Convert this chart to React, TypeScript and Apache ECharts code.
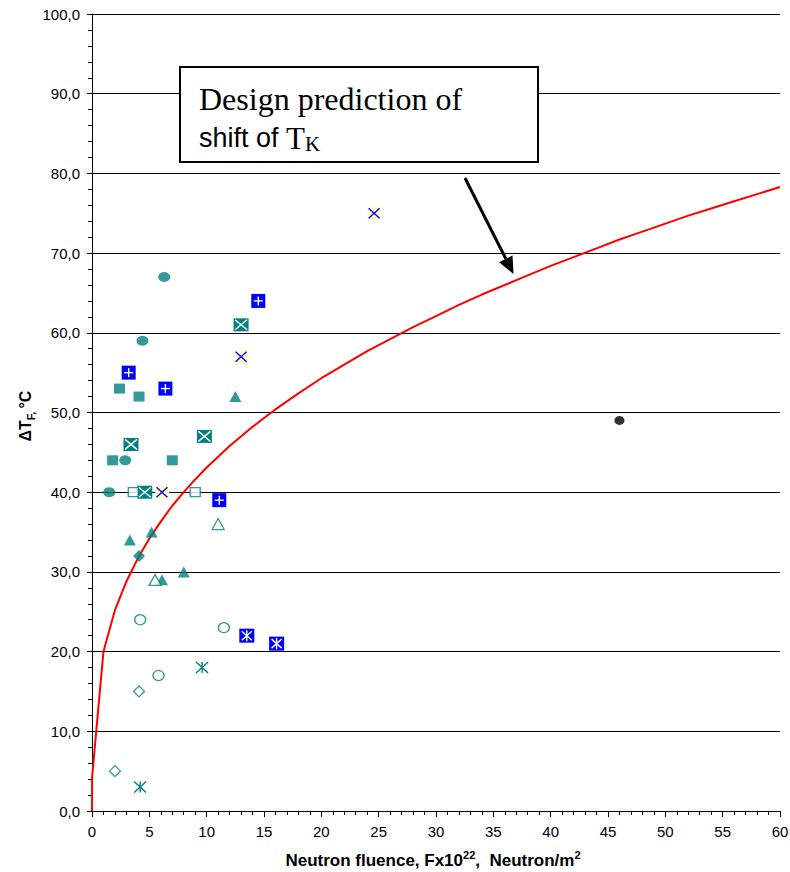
import React, { useEffect, useRef } from "react";
import * as echarts from "echarts";

// Design prediction curve of the transition-temperature shift
const curveFluence = [0, 0.01, 1, 2, 3, 4, 5, 6, 7, 8, 9, 10, 12, 14, 16, 18, 20, 22, 24, 26, 28, 30, 32, 34, 36, 38, 40, 42, 44, 46, 48, 50, 52, 54, 56, 58, 60];
const curveShift = [0, 4.3, 20.0, 25.2, 28.8, 31.7, 34.2, 36.3, 38.3, 40.0, 41.6, 43.1, 45.8, 48.2, 50.4, 52.4, 54.3, 56.0, 57.7, 59.2, 60.7, 62.1, 63.5, 64.8, 66.0, 67.2, 68.4, 69.5, 70.6, 71.7, 72.7, 73.7, 74.7, 75.6, 76.5, 77.4, 78.3];

// Measured shifts, grouped by marker style: [fluence, shift]
const filledEllipse = [[6.3, 67], [4.4, 59], [2.9, 44], [1.5, 40]];
const filledSquare = [[2.4, 53], [4.1, 52], [1.8, 44], [7.0, 44]];
const bluePlusBox = [[14.5, 64], [3.2, 55], [6.4, 53], [11.1, 39]];
const tealCrossBox = [[13.0, 61], [3.4, 46], [9.8, 47], [4.6, 40]];
const yellowCrossBox = [[24.6, 75], [13.0, 57], [6.1, 40]];
const filledTriangle = [[12.5, 52], [5.2, 35], [3.3, 34], [8.0, 30], [6.1, 29]];
const hollowSquare = [[3.6, 40], [9.0, 40]];
const hollowTriangle = [[11.0, 36], [5.5, 29]];
const filledDiamond = [[4.1, 32]];
const hollowCircle = [[4.2, 24], [11.5, 23], [5.8, 17]];
const blueStarBox = [[13.5, 22], [16.1, 21]];
const tealStar = [[9.6, 18], [4.2, 3]];
const hollowDiamond = [[4.1, 15], [2.0, 5]];
const blackDot = [[46.0, 49]];

const xTicks = [0, 5, 10, 15, 20, 25, 30, 35, 40, 45, 50, 55, 60];

const TEAL = "#008080";
const BLUE = "#0000FF";

type Glyph = "plus" | "x" | "star";

function boxMarker(fill: string | null, stroke: string, glyph: Glyph, w = 14, h = 14, inset = 1.5) {
  return (_params: any, api: any) => {
    const p = api.coord([api.value(0), api.value(1)]);
    const cx = p[0];
    const cy = p[1];
    const children: any[] = [];
    if (fill) {
      children.push({
        type: "rect",
        shape: { x: cx - w / 2, y: cy - h / 2, width: w, height: h },
        style: { fill },
      });
    }
    const ls = { stroke, lineWidth: 1.4 };
    const hw = w / 2 - inset;
    const hh = h / 2 - inset;
    if (glyph === "plus") {
      children.push({ type: "line", shape: { x1: cx - hw + 1, y1: cy, x2: cx + hw - 1, y2: cy }, style: ls });
      children.push({ type: "line", shape: { x1: cx, y1: cy - hh + 1, x2: cx, y2: cy + hh - 1 }, style: ls });
    } else {
      const dx = glyph === "star" && fill ? hw - 1 : hw;
      const dy = glyph === "star" && fill ? hh - 1 : hh;
      children.push({ type: "line", shape: { x1: cx - dx, y1: cy - dy, x2: cx + dx, y2: cy + dy }, style: ls });
      children.push({ type: "line", shape: { x1: cx - dx, y1: cy + dy, x2: cx + dx, y2: cy - dy }, style: ls });
      if (glyph === "star") {
        children.push({ type: "line", shape: { x1: cx, y1: cy - hh, x2: cx, y2: cy + hh }, style: ls });
      }
    }
    return { type: "group", children };
  };
}

function scatter(data: number[][], symbol: string, size: number | number[], fill: string, border?: string) {
  return {
    type: "scatter",
    data,
    symbol,
    symbolSize: size,
    z: 5,
    itemStyle: border
      ? { color: fill, borderColor: border, borderWidth: 1.3 }
      : { color: fill, borderWidth: 0 },
    emphasis: { disabled: true },
  };
}

function custom(data: number[][], render: any) {
  return {
    type: "custom",
    data,
    z: 5,
    encode: { x: 0, y: 1 },
    renderItem: render,
  };
}

// Arrow from the annotation box down to the curve
const arrowFrom = [465, 178];
const arrowTip = [513.5, 274];
function arrowHead() {
  const dx = arrowTip[0] - arrowFrom[0];
  const dy = arrowTip[1] - arrowFrom[1];
  const len = Math.sqrt(dx * dx + dy * dy);
  const ux = dx / len;
  const uy = dy / len;
  const headLen = 17;
  const halfW = 7.5;
  const bx = arrowTip[0] - ux * headLen;
  const by = arrowTip[1] - uy * headLen;
  return {
    base: [bx, by],
    points: [
      [arrowTip[0], arrowTip[1]],
      [bx - uy * halfW, by + ux * halfW],
      [bx + uy * halfW, by - ux * halfW],
    ],
  };
}

export default function App() {
  const ref = useRef<HTMLDivElement>(null);

  useEffect(() => {
    document.body.style.margin = "0";
    if (!ref.current) return;
    const chart = echarts.init(ref.current, null, { renderer: "svg" });
    const head = arrowHead();

    const option: any = {
      animation: false,
      backgroundColor: "#ffffff",
      grid: { left: 92, right: 10, top: 14, bottom: 61, containLabel: false, outerBoundsMode: "none" },
      xAxis: {
        type: "value",
        min: 0,
        max: 60,
        interval: 5,
        axisLine: { show: true, onZero: false, lineStyle: { color: "#000", width: 1 } },
        axisTick: { show: true, length: 6, lineStyle: { color: "#000" } },
        minorTick: { show: true, splitNumber: 5, length: 4, lineStyle: { color: "#000" } },
        splitLine: { show: false },
        axisLabel: {
          color: "#000",
          fontFamily: "Arial, 'Liberation Sans', sans-serif",
          fontSize: 15,
          margin: 13,
          formatter: (v: number) => (xTicks.includes(v) ? String(v) : ""),
        },
      },
      yAxis: {
        type: "value",
        min: 0,
        max: 100,
        interval: 10,
        axisLine: { show: true, onZero: false, lineStyle: { color: "#000", width: 1 } },
        axisTick: { show: true, length: 5, lineStyle: { color: "#000" } },
        minorTick: { show: true, splitNumber: 5, length: 4, lineStyle: { color: "#000" } },
        splitLine: { show: true, lineStyle: { color: "#000", width: 1 } },
        axisLabel: {
          color: "#000",
          fontFamily: "Arial, 'Liberation Sans', sans-serif",
          fontSize: 15,
          margin: 12,
          formatter: (v: number) => v.toFixed(1).replace(".", ","),
        },
      },
      series: [
        {
          type: "line",
          data: curveFluence.map((f, i) => [f, curveShift[i]]),
          symbol: "none",
          smooth: false,
          z: 3,
          lineStyle: { color: "#FF0000", width: 2 },
          emphasis: { disabled: true },
        },
        scatter(filledEllipse, "circle", [12, 10], TEAL),
        scatter(filledSquare, "rect", [11, 10], TEAL),
        scatter(filledTriangle, "triangle", [12, 11], TEAL),
        scatter(hollowSquare, "rect", [10, 9], "#fff", TEAL),
        scatter(hollowTriangle, "triangle", [12, 11], "#fff", TEAL),
        scatter(filledDiamond, "diamond", [12, 12], TEAL),
        scatter(hollowCircle, "circle", [11, 10], "#fff", TEAL),
        scatter(hollowDiamond, "diamond", [11, 11], "#fff", TEAL),
        scatter(blackDot, "circle", [10, 9], "#000"),
        custom(bluePlusBox, boxMarker(BLUE, "#fff", "plus", 14, 14)),
        custom(tealCrossBox, boxMarker(TEAL, "#fff", "x", 15, 13)),
        custom(yellowCrossBox, boxMarker("#FFFFC4", BLUE, "x", 14, 13)),
        custom(blueStarBox, boxMarker(BLUE, "#fff", "star", 15, 14)),
        custom(tealStar, boxMarker(null, TEAL, "star", 13, 12, 0.5)),
      ],
      graphic: [
        {
          type: "rect",
          z: 100,
          shape: { x: 180, y: 67, width: 358, height: 95 },
          style: { fill: "#fff", stroke: "#000", lineWidth: 2 },
        },
        {
          type: "text",
          z: 101,
          x: 199,
          y: 99,
          style: {
            text: "Design prediction of",
            fontFamily: "'Times New Roman', 'Liberation Serif', serif",
            fontSize: 32,
            fill: "#000",
            align: "left",
            verticalAlign: "middle",
          },
        },
        {
          type: "text",
          z: 101,
          x: 199,
          y: 138,
          style: {
            text: "{a|shift of }{t|T}{k|K}",
            align: "left",
            verticalAlign: "middle",
            rich: {
              a: { fontFamily: "Arial, 'Liberation Sans', sans-serif", fontSize: 27, fill: "#000", lineHeight: 32, verticalAlign: "middle" },
              t: { fontFamily: "'Times New Roman', 'Liberation Serif', serif", fontSize: 31, fill: "#000", lineHeight: 32, verticalAlign: "middle" },
              k: { fontFamily: "'Times New Roman', 'Liberation Serif', serif", fontSize: 21, fill: "#000", lineHeight: 21, verticalAlign: "bottom" },
            },
          },
        },
        {
          type: "line",
          z: 101,
          shape: { x1: arrowFrom[0], y1: arrowFrom[1], x2: head.base[0], y2: head.base[1] },
          style: { stroke: "#000", lineWidth: 3 },
        },
        {
          type: "polygon",
          z: 101,
          shape: { points: head.points },
          style: { fill: "#000" },
        },
        {
          type: "text",
          z: 101,
          x: 25,
          y: 416,
          rotation: Math.PI / 2,
          style: {
            text: "{a|\u0394T}{b|F, }{a|\u00B0C}",
            align: "center",
            verticalAlign: "middle",
            rich: {
              a: { fontFamily: "Arial, 'Liberation Sans', sans-serif", fontWeight: "bold", fontSize: 16, fill: "#000", lineHeight: 22, verticalAlign: "middle" },
              b: { fontFamily: "Arial, 'Liberation Sans', sans-serif", fontWeight: "bold", fontSize: 11, fill: "#000", lineHeight: 11, verticalAlign: "bottom" },
            },
          },
        },
        {
          type: "text",
          z: 101,
          x: 433,
          y: 860,
          style: {
            text: "{a|Neutron fluence, Fx10}{s|22}{a|,  Neutron/m}{s|2}",
            align: "center",
            verticalAlign: "middle",
            rich: {
              a: { fontFamily: "Arial, 'Liberation Sans', sans-serif", fontWeight: "bold", fontSize: 17, fill: "#000", lineHeight: 22, verticalAlign: "middle" },
              s: { fontFamily: "Arial, 'Liberation Sans', sans-serif", fontWeight: "bold", fontSize: 11, fill: "#000", lineHeight: 10, verticalAlign: "top" },
            },
          },
        },
      ],
    };

    chart.setOption(option);
    return () => chart.dispose();
  }, []);

  return <div ref={ref} style={{ width: 790, height: 872 }} />;
}
